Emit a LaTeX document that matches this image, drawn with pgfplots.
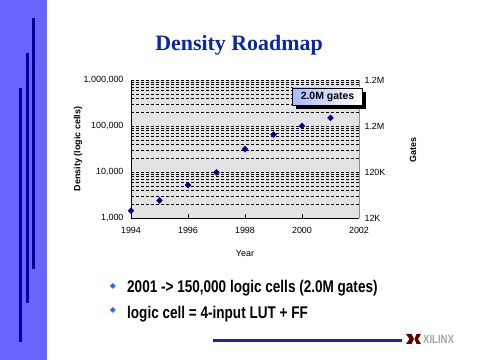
\documentclass[border=0pt]{standalone}
\usepackage{fontspec}
\setmainfont{Liberation Sans}
\newfontfamily\titlefont{Liberation Serif}
\newfontfamily\narrowfont[FakeStretch=0.8]{Liberation Sans}
\newfontfamily\symfont{DejaVu Sans}
\usepackage{pgfplots}
\pgfplotsset{compat=1.18}
\definecolor{barblue}{RGB}{102,102,255}
\definecolor{linenavy}{RGB}{0,0,150}
\definecolor{titleblue}{RGB}{10,40,165}
\definecolor{marknavy}{RGB}{0,0,128}
\definecolor{plotgray}{RGB}{227,227,227}
\definecolor{bulletblue}{RGB}{51,102,255}
\definecolor{xred}{RGB}{100,0,0}
\definecolor{rulenavy}{RGB}{30,40,150}
\begin{document}
\begin{tikzpicture}
\path[use as bounding box, fill=white] (0bp,0bp) rectangle (480bp,360bp);
% left decorative bar
\fill[barblue] (0bp,0bp) rectangle (47bp,360bp);
\fill[linenavy] (19.3bp,18bp) rectangle (21.6bp,272bp);
\fill[linenavy] (26.2bp,57bp) rectangle (28.5bp,307bp);
\fill[linenavy] (32.2bp,91bp) rectangle (34.5bp,342bp);
% title
\node[anchor=base, inner sep=0, text=titleblue, font=\titlefont\bfseries\fontsize{22}{24}\selectfont] at (239bp,309bp) {Density Roadmap};
% main axis
\begin{axis}[
  at={(131bp,142bp)}, anchor=south west,
  width=228bp, height=138bp, scale only axis,
  xmin=1994, xmax=2002, ymin=1000, ymax=1000000, ymode=log,
  axis x line*=bottom, axis y line*=left,
  axis line style={black, line width=0.8bp},
  axis background/.style={fill=plotgray},
  xtick={1994,1996,1998,2000,2002},
  xticklabels={1994,1996,1998,2000,2002},
  major tick length=4bp,
  x tick style={black, line width=0.8bp},
  ytick={1000,10000,100000,1000000},
  yticklabels={{1,000},{10,000},{100,000},{1,000,000}},
  minor ytick={2000,3000,4000,5000,6000,7000,8000,9000,20000,30000,40000,50000,60000,70000,80000,90000,200000,300000,400000,500000,600000,700000,800000,900000},
  y tick style={draw=none},
  minor tick length=0pt,
  ymajorgrids, yminorgrids,
  major grid style={black, line width=0.5bp, dash pattern=on 3bp off 2bp},
  minor grid style={black, line width=0.5bp, dash pattern=on 3bp off 2bp},
  tick label style={font=\fontsize{9}{10}\selectfont},
  yticklabel style={xshift=-4bp},
  xticklabel style={yshift=-6bp},
  xlabel={Year}, ylabel={Density (logic cells)},
  xlabel style={at={(rel axis cs:0.5,-0.254)}, anchor=center, font=\fontsize{9}{10}\selectfont},
  ylabel style={at={(rel axis cs:-0.232,0.5)}, anchor=center, font=\bfseries\fontsize{9}{10}\selectfont},
  clip=false,
]
\addplot[only marks, mark=diamond*, mark size=3bp, mark options={xscale=1.3}, color=marknavy] coordinates {
  (1994,1440) (1995,2400) (1996,5200) (1997,9800) (1998,31600) (1999,65000) (2000,100000) (2001,150000)
};
\end{axis}
% right axis
\begin{axis}[
  at={(131bp,142bp)}, anchor=south west,
  width=228bp, height=138bp, scale only axis,
  xmin=1994, xmax=2002, ymin=1000, ymax=1000000, ymode=log,
  axis y line*=right, axis x line=none,
  axis line style={black!45, line width=0.8bp},
  ytick={1000,10000,100000,1000000},
  yticklabels={12K,120K,1.2M,1.2M},
  y tick style={draw=none},
  minor ytick={},
  tick label style={font=\fontsize{9}{10}\selectfont},
  yticklabel style={xshift=2bp},
]
\addplot[draw=none, forget plot] coordinates {(1994,1000) (2002,1000000)};
\end{axis}
\node[rotate=90, font=\bfseries\fontsize{9}{10}\selectfont] at (413bp,210bp) {Gates};
% callout
\fill[black] (296bp,251bp) rectangle (366bp,268bp);
\node[draw=black, line width=0.6bp, left color={rgb,255:red,165;green,185;blue,255}, right color=white, minimum width=70bp, minimum height=17bp, inner sep=0, font=\bfseries\fontsize{10.5}{12}\selectfont] at (327.5bp,263.5bp) {2.0M gates};
% bullets
\node[inner sep=0, text=bulletblue, font=\symfont\fontsize{8}{9}\selectfont] at (113bp,73.3bp) {◆};
\node[inner sep=0, text=bulletblue, font=\symfont\fontsize{8}{9}\selectfont] at (113bp,49.3bp) {◆};
\node[anchor=base west, inner sep=0, font=\narrowfont\bfseries\fontsize{17}{20}\selectfont] at (127bp,67bp) {2001 -> 150,000 logic cells (2.0M gates)};
\node[anchor=base west, inner sep=0, font=\narrowfont\bfseries\fontsize{17}{20}\selectfont] at (127bp,41.3bp) {logic cell = 4-input LUT + FF};
% footer rule and logo
\draw[line width=2.5bp, rulenavy] (213bp,19.3bp) -- (402bp,19.3bp);
\fill[xred] (406bp,26bp) -- (411.5bp,26bp) -- (414bp,21bp) -- (411.5bp,16bp) -- (406bp,16bp) -- (409.5bp,21bp) -- cycle;
\fill[xred] (421bp,26bp) -- (416.5bp,26bp) -- (414.5bp,21bp) -- (416.5bp,16bp) -- (421bp,16bp) -- (418bp,21bp) -- cycle;
\node[anchor=west, inner sep=0, text=black!35, font=\narrowfont\bfseries\fontsize{12}{12}\selectfont] at (423bp,21bp) {XILINX};
\end{tikzpicture}
\end{document}
